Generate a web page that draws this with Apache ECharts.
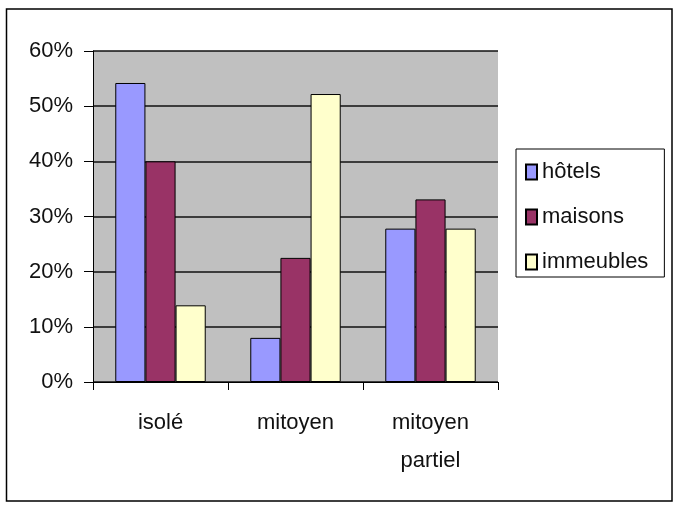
<!DOCTYPE html>
<html>
<head>
<meta charset="utf-8">
<script src="https://cdn.jsdelivr.net/npm/echarts@6/dist/echarts.min.js"></script>
<style>
html,body{margin:0;padding:0;background:#fff;}
#chart{width:682px;height:512px;}
</style>
</head>
<body>
<div id="chart"></div>
<script>
var categories = ['isolé', 'mitoyen', 'mitoyen\npartiel'];
var seriesNames = ['hôtels', 'maisons', 'immeubles'];
var hotels = [0.542, 0.080, 0.278];
var maisons = [0.400, 0.225, 0.331];
var immeubles = [0.139, 0.522, 0.278];
var yTicks = [0, 0.1, 0.2, 0.3, 0.4, 0.5, 0.6];
var colors = ['#9999FF', '#993366', '#FFFFCC'];

var FONT = '"Liberation Sans", Arial, sans-serif';
var chart = echarts.init(document.getElementById('chart'), null, {renderer: 'canvas'});
var values = [hotels, maisons, immeubles];

chart.setOption({
  animation: false,
  backgroundColor: '#ffffff',
  textStyle: {fontFamily: FONT, color: '#111'},
  graphic: [{
    type: 'rect',
    shape: {x: 6.5, y: 9, width: 665.5, height: 492},
    style: {fill: 'none', stroke: '#000', lineWidth: 1.5},
    silent: true
  }],
  legend: {
    orient: 'vertical',
    left: 516,
    top: 149,
    padding: [12, 16, 4, 9],
    itemGap: 23,
    itemWidth: 11,
    itemHeight: 15,
    icon: 'rect',
    borderColor: '#000',
    borderWidth: 1,
    backgroundColor: '#fff',
    textStyle: {fontFamily: FONT, fontSize: 22, color: '#111', lineHeight: 22},
    data: seriesNames
  },
  grid: {
    left: 93, top: 51, right: 184, bottom: 130,
    show: true, backgroundColor: '#C0C0C0', borderWidth: 0
  },
  xAxis: {
    type: 'category',
    data: categories,
    axisLine: {show: true, lineStyle: {color: '#000', width: 1}},
    axisTick: {show: true, length: 8, alignWithLabel: false, lineStyle: {color: '#000'}},
    axisLabel: {fontFamily: FONT, fontSize: 22, color: '#111', margin: 22, lineHeight: 38, interval: 0}
  },
  yAxis: {
    type: 'value',
    min: yTicks[0],
    max: yTicks[yTicks.length - 1],
    interval: 0.1,
    axisLine: {show: true, lineStyle: {color: '#000', width: 1}},
    axisTick: {show: true, length: 9, lineStyle: {color: '#000'}},
    axisLabel: {fontFamily: FONT, fontSize: 22, color: '#111', margin: 20,
      formatter: function (v) { return Math.round(v * 100) + '%'; }},
    splitLine: {show: true, lineStyle: {color: '#111', width: 1.5}}
  },
  series: seriesNames.map(function (n, i) {
    return {
      name: n,
      type: 'bar',
      data: values[i],
      barGap: '0%',
      barCategoryGap: '33%',
      itemStyle: {color: colors[i], borderColor: '#000', borderWidth: 1}
    };
  })
});
</script>
</body>
</html>
